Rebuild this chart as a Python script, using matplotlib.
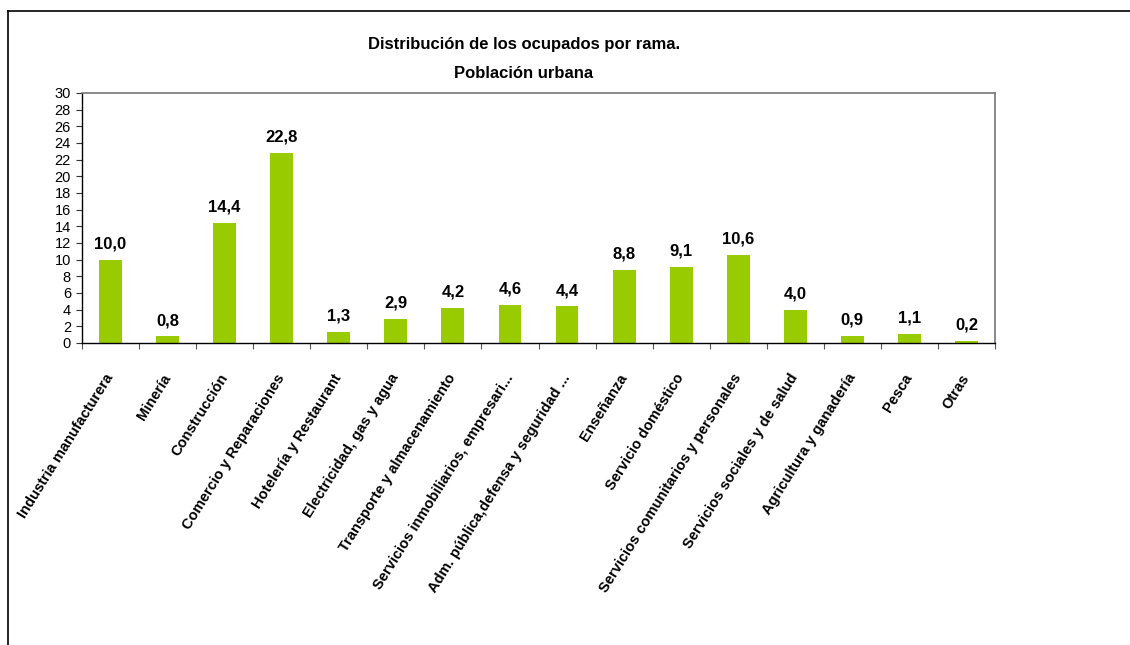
import matplotlib
matplotlib.use("Agg")
import matplotlib.pyplot as plt
from matplotlib.lines import Line2D
import numpy as np

plt.rcParams['font.family'] = ['Liberation Sans', 'DejaVu Sans']

ramas = ["Industria manufacturera", "Minería", "Construcción", "Comercio y Reparaciones",
         "Hotelería y Restaurant", "Electricidad, gas y agua", "Transporte y almacenamiento",
         "Servicios inmobiliarios, empresari...", "Adm. pública,defensa y seguridad ...",
         "Enseñanza", "Servicio doméstico", "Servicios comunitarios y personales",
         "Servicios sociales y de salud", "Agricultura y ganadería", "Pesca", "Otras"]
valores = [10.0, 0.8, 14.4, 22.8, 1.3, 2.9, 4.2, 4.6, 4.4, 8.8, 9.1, 10.6, 4.0, 0.9, 1.1, 0.2]
y_ticks = list(range(0, 31, 2))

fig = plt.figure(figsize=(11.3, 6.45), dpi=100)
ax = fig.add_axes([82 / 1130, 1 - 343 / 645, (995 - 82) / 1130, (343 - 93) / 645])

x = np.arange(len(ramas))
ax.bar(x, valores, width=0.4, color='#99CC00', zorder=2)
for xi, v in zip(x, valores):
    ax.annotate(f"{v:.1f}".replace('.', ','), (xi, v), xytext=(0, 6), textcoords='offset points',
                ha='center', va='bottom', fontsize=12, fontweight='bold')

ax.set_xlim(-0.5, len(ramas) - 0.5)
ax.set_ylim(0, 30)
ax.set_yticks(y_ticks)
ax.set_yticklabels([str(t) for t in y_ticks], fontsize=10.5)
ax.tick_params(axis='y', length=4, pad=4, color='#333333')

# category boundary ticks
ax.set_xticks(np.arange(-0.5, len(ramas) + 0.5, 1))
ax.set_xticklabels([])
ax.tick_params(axis='x', length=4, color='#555555')
ax.set_xticks(x, minor=True)
ax.set_xticklabels(ramas, minor=True, rotation=58, ha='right', va='center',
                   rotation_mode='anchor', fontsize=10.5, fontweight='bold')
ax.tick_params(axis='x', which='minor', length=0, pad=23)

for s in ['top', 'right']:
    ax.spines[s].set_color('#777777')
    ax.spines[s].set_linewidth(1.2)
for s in ['left', 'bottom']:
    ax.spines[s].set_color('black')
    ax.spines[s].set_linewidth(1.0)

fig.text(524 / 1130, 1 - 45 / 645, "Distribución de los ocupados por rama.",
         ha='center', va='center', fontsize=12, fontweight='bold')
fig.text(524 / 1130, 1 - 74 / 645, "Población urbana",
         ha='center', va='center', fontsize=12, fontweight='bold')

# outer frame lines
fig.add_artist(Line2D([8 / 1130, 1], [1 - 11 / 645, 1 - 11 / 645], color='black', lw=1.2))
fig.add_artist(Line2D([8 / 1130, 8 / 1130], [0, 1 - 11 / 645], color='black', lw=1.2))

fig.savefig("out.png", dpi=100)
